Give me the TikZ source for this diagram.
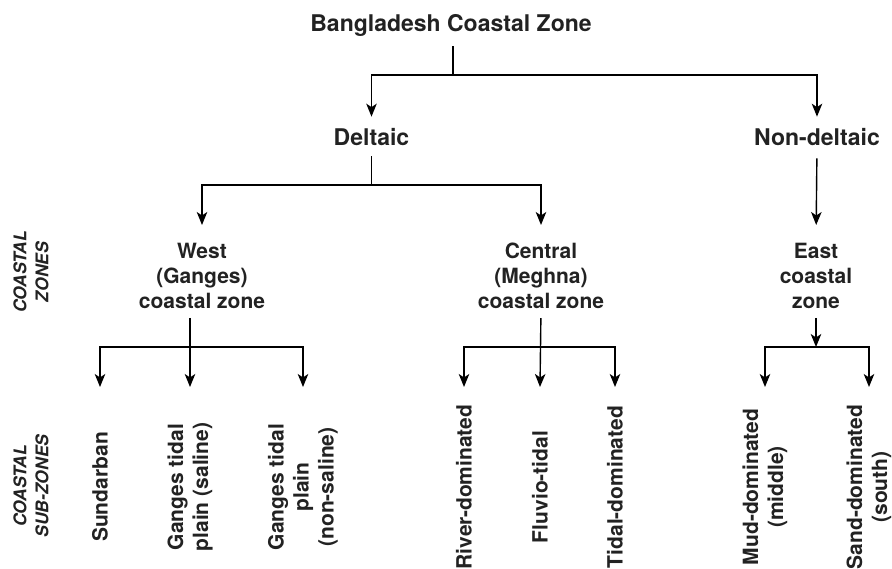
\documentclass[tikz,border=0pt]{standalone}
\usepackage{fontspec}
\setmainfont{TeX Gyre Heros}
\usetikzlibrary{arrows.meta}
\definecolor{ink}{HTML}{222222}
\begin{document}
\begin{tikzpicture}[x=1pt,y=-1pt,
  every node/.style={inner sep=0pt, text=ink},
  head/.style={font=\fontsize{23}{27}\selectfont\bfseries},
  zone/.style={font=\fontsize{21}{25}\selectfont\bfseries, align=center},
  sub/.style={font=\fontsize{21}{25}\selectfont\bfseries, align=center, rotate=90},
  side/.style={font=\fontsize{17.5}{22}\selectfont\bfseries\itshape, align=center, rotate=90},
  wire/.style={line width=1.4pt, draw=black},
  arr/.style={wire, -{Stealth[length=13pt,width=10.5pt,inset=3.5pt]}}]

\useasboundingbox (0,0) rectangle (892,569);

% levels of the hierarchy
\node[head, anchor=base] (top)  at (451,32)  {Bangladesh Coastal Zone};
\node[head, anchor=base] (delt) at (371.5,146) {Deltaic};
\node[head, anchor=base] (nond) at (817,146) {Non-deltaic};

\node[zone, anchor=north] (west) at (202,243) {West\\(Ganges)\\coastal zone};
\node[zone, anchor=north] (cent) at (541,243) {Central\\(Meghna)\\coastal zone};
\node[zone, anchor=north] (east) at (816,243) {East\\coastal\\zone};

% side captions
\node[side] (cz)  at (31,272) {COASTAL\\ZONES};
\node[side] (csz) at (31,486) {COASTAL\\SUB-ZONES};

% sub-zones
\node[sub] (sund)  at (100,487) {Sundarban};
\node[sub] (gsal)  at (190,487) {Ganges tidal\\plain (saline)};
\node[sub] (gnon)  at (303,487) {Ganges tidal\\plain\\(non-saline)};
\node[sub] (river) at (464,487) {River-dominated};
\node[sub] (fluv)  at (540,487) {Fluvio-tidal};
\node[sub] (tidal) at (615,487) {Tidal-dominated};
\node[sub] (mud)   at (765,487) {Mud-dominated\\(middle)};
\node[sub] (sand)  at (869,487) {Sand-dominated\\(south)};

% branch points
\coordinate (j0) at (453,75);
\coordinate (j1) at (371.5,185);
\coordinate (jw) at (190,347);
\coordinate (jc) at (541,347);
\coordinate (je) at (816,347);
\coordinate (tip) at (0,387);

% top level
\draw[wire, shorten <=9pt] (top.south -| j0) -- (j0);
\draw[arr, shorten >=12pt] (j0) -| (delt.north);
\draw[arr, shorten >=12pt] (j0) -| (nond.north);

% second level
\draw[wire, shorten <=10pt] (delt.south) -- (j1);
\draw[arr, shorten >=18pt] (j1) -| (west.north);
\draw[arr, shorten >=18pt] (j1) -| (cent.north);
\draw[arr, shorten <=12pt, shorten >=18pt] (nond.south) -- (east.north);

% west sub-zones
\draw[arr, shorten <=9pt] (west.south -| jw) -- (gsal |- tip);
\draw[arr] (jw) -| (sund |- tip);
\draw[arr] (jw) -| (gnon |- tip);

% central sub-zones
\draw[arr, shorten <=9pt] (cent.south -| jc) -- (fluv |- tip);
\draw[arr] (jc) -| (river |- tip);
\draw[arr] (jc) -| (tidal |- tip);

% east sub-zones
\draw[arr, shorten <=9pt] (east.south -| je) -- (je);
\draw[arr] (je) -| (mud |- tip);
\draw[arr] (je) -| (sand |- tip);
\end{tikzpicture}
\end{document}
